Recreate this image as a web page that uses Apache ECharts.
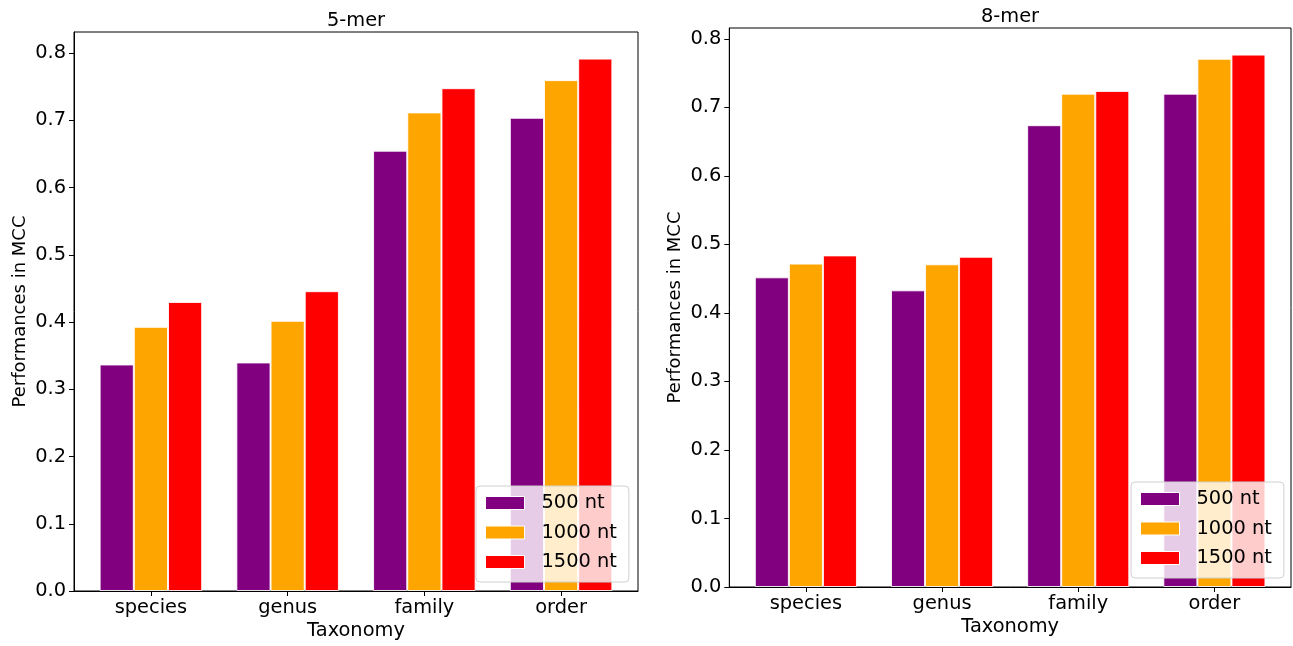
<!DOCTYPE html>
<html>
<head>
<meta charset="utf-8">
<title>MCC by taxonomy rank</title>
<script src="https://cdn.jsdelivr.net/npm/echarts@6/dist/echarts.min.js"></script>
<style>
  html, body { margin: 0; padding: 0; background: #fff; }
  #chart { width: 1293px; height: 646px; }
</style>
</head>
<body>
<div id="chart"></div>
<script>
// Taxonomy ranks on the x axis
const categories = ['species', 'genus', 'family', 'order'];
const seriesNames = ['500 nt', '1000 nt', '1500 nt'];
const yTicks = [0, 0.1, 0.2, 0.3, 0.4, 0.5, 0.6, 0.7, 0.8];

// MCC scores, 5-mer model
const mer5_500 = [0.337, 0.340, 0.655, 0.704];
const mer5_1000 = [0.393, 0.402, 0.712, 0.760];
const mer5_1500 = [0.430, 0.446, 0.748, 0.792];

// MCC scores, 8-mer model
const mer8_500 = [0.452, 0.433, 0.674, 0.720];
const mer8_1000 = [0.472, 0.471, 0.720, 0.771];
const mer8_1500 = [0.484, 0.482, 0.724, 0.777];

const colors = ['#800080', '#FFA500', '#FF0000'];
const FONT = 'DejaVu Sans';
const FS = 19.4;

const panels = [
  { title: '5-mer', data: [mer5_500, mer5_1000, mer5_1500],
    grid: { left: 74, top: 32, width: 564, height: 559 },
    titleX: 356, titleTop: 11, legend: { left: 476, top: 486 } },
  { title: '8-mer', data: [mer8_500, mer8_1000, mer8_1500],
    grid: { left: 729.3, top: 28, width: 561.7, height: 559 },
    titleX: 1010, titleTop: 7, legend: { left: 1131, top: 482 } }
];

const option = {
  animation: false,
  backgroundColor: '#fff',
  textStyle: { fontFamily: FONT },
  title: [], grid: [], xAxis: [], yAxis: [], legend: [], series: []
};

panels.forEach((p, i) => {
  const ymax = Math.max(...p.data.flat()) * 1.05;
  option.title.push({
    text: p.title, left: p.titleX, top: p.titleTop, textAlign: 'center', padding: 0,
    textStyle: { fontFamily: FONT, fontSize: FS, fontWeight: 'normal', color: '#000' }
  });
  option.grid.push(Object.assign({ show: true, borderColor: '#000', borderWidth: 1, containLabel: false }, p.grid));
  option.xAxis.push({
    type: 'value', gridIndex: i, min: -0.5625, max: 3.5625,
    name: 'Taxonomy', nameLocation: 'middle', nameGap: 29,
    nameTextStyle: { fontFamily: FONT, fontSize: FS, color: '#000' },
    axisLine: { show: true, onZero: false, lineStyle: { color: '#000', width: 1 } },
    axisTick: { show: true, length: 5, customValues: [0, 1, 2, 3], lineStyle: { color: '#000' } },
    axisLabel: { customValues: [0, 1, 2, 3], margin: 7, fontFamily: FONT, fontSize: FS, color: '#000',
      formatter: v => categories[Math.round(v)] },
    splitLine: { show: false }
  });
  option.yAxis.push({
    type: 'value', gridIndex: i, min: 0, max: ymax,
    name: 'Performances in MCC', nameLocation: 'middle', nameGap: 45,
    nameTextStyle: { fontFamily: FONT, fontSize: 18, color: '#000' },
    axisLine: { show: true, onZero: false, lineStyle: { color: '#000', width: 1 } },
    axisTick: { show: true, length: 5, customValues: yTicks, lineStyle: { color: '#000' } },
    axisLabel: { customValues: yTicks, margin: 8, fontFamily: FONT, fontSize: FS, color: '#000',
      padding: [3, 0, 0, 0], formatter: v => v.toFixed(1) },
    splitLine: { show: false }
  });
  option.legend.push({
    orient: 'vertical', left: p.legend.left, top: p.legend.top,
    data: seriesNames, icon: 'rect', itemWidth: 39, itemHeight: 13, itemGap: 9.5,
    padding: [7, 12, 10, 9],
    backgroundColor: 'rgba(255,255,255,0.8)', borderColor: '#d0d0d0', borderWidth: 1, borderRadius: 4,
    selectedMode: false,
    textStyle: { fontFamily: FONT, fontSize: FS, color: '#000', lineHeight: 20, padding: [0, 0, 0, 12] },
    itemStyle: { borderColor: '#fff', borderWidth: 1 }
  });
  p.data.forEach((vals, k) => {
    option.series.push({
      type: 'bar', name: seriesNames[k], xAxisIndex: i, yAxisIndex: i,
      data: vals.map((v, j) => [j, v]),
      barWidth: '25%', barGap: '0%',
      itemStyle: { color: colors[k], borderColor: 'rgba(255,255,255,0.85)', borderWidth: 1 }
    });
  });
});

const chart = echarts.init(document.getElementById('chart'), null, { renderer: 'canvas' });
chart.setOption(option);
</script>
</body>
</html>
